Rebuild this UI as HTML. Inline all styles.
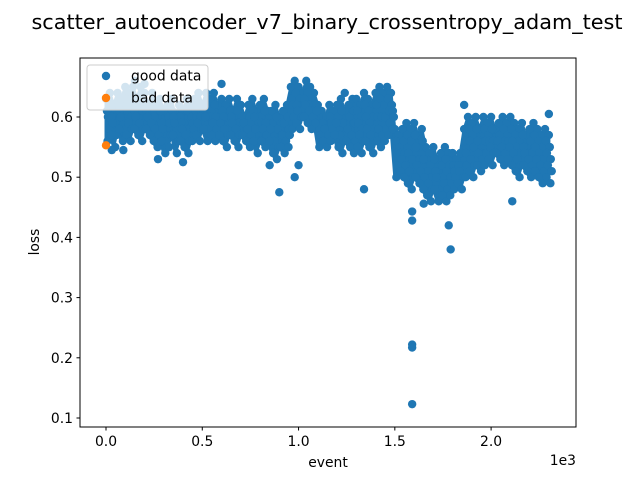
<!DOCTYPE html>
<html><head><meta charset="utf-8"><style>
body{margin:0;background:#fff;}
svg{display:block;font-family:"DejaVu Sans","Liberation Sans",sans-serif;}
</style></head><body>
<svg id="chart" width="640" height="480" xmlns="http://www.w3.org/2000/svg">
<rect width="640" height="480" fill="#fff"/>
<text x="327" y="29" font-size="20.8" text-anchor="middle">scatter_autoencoder_v7_binary_crossentropy_adam_test</text>
<g id="marks"></g>
<rect x="80" y="58" width="496" height="369" fill="none" stroke="#000" stroke-width="1"/>
<g id="axes"></g>
<text x="328" y="467" font-size="13.9" text-anchor="middle">event</text>
<text x="576" y="465" font-size="13.9" text-anchor="end">1e3</text>
<text x="39" y="242" font-size="13.9" text-anchor="middle" transform="rotate(-90 39 242)">loss</text>
<g>
<rect x="87" y="65" width="121" height="45" rx="3" fill="#fff" fill-opacity="0.8" stroke="#ccc"/>
<circle cx="106" cy="76" r="4.2" fill="#1f77b4"/>
<text x="131" y="80.5" font-size="13.9">good data</text>
<circle cx="106" cy="98" r="4.2" fill="#ff7f0e"/>
<text x="131" y="102.5" font-size="13.9">bad data</text>
</g>
</svg>
<script>
const xTicks=[0,500,1000,1500,2000];
const xTickLabels=["0.0","0.5","1.0","1.5","2.0"];
const yTicks=[0.1,0.2,0.3,0.4,0.5,0.6];
const yTickLabels=["0.1","0.2","0.3","0.4","0.5","0.6"];
const binStep=20;
const lossHi=[.63,.64,.62,.64,.63,.65,.64,.65,.63,.65,.64,.62,.64,.62,.63,.61,.62,.63,.60,.62,.61,.63,.62,.63,.64,.62,.64,.63,.64,.62,.63,.62,.63,.61,.63,.62,.60,.62,.63,.61,.62,.63,.61,.61,.62,.60,.61,.62,.65,.66,.65,.64,.66,.65,.64,.62,.61,.60,.62,.61,.62,.63,.61,.62,.63,.63,.62,.64,.63,.62,.64,.65,.64,.65,.64,.58,.57,.58,.59,.58,.59,.57,.58,.55,.54,.55,.53,.54,.55,.54,.54,.53,.54,.58,.60,.59,.60,.58,.60,.59,.60,.58,.59,.60,.59,.60,.59,.58,.59,.57,.58,.59,.58,.57,.58,.57];
const lossMidA=[.61,.62,.60,.62,.61,.63,.62,.62,.61,.63,.62,.60,.62,.60,.61,.59,.60,.61,.58,.60,.59,.61,.60,.61,.62,.60,.62,.61,.62,.60,.61,.60,.61,.59,.61,.60,.59,.60,.61,.59,.60,.61,.59,.59,.60,.58,.59,.60,.63,.64,.63,.62,.64,.63,.62,.60,.59,.58,.60,.59,.60,.61,.59,.60,.61,.61,.60,.62,.61,.60,.62,.63,.62,.63,.62,.56,.55,.56,.57,.56,.57,.55,.56,.53,.52,.53,.51,.52,.53,.52,.52,.51,.52,.56,.58,.57,.58,.56,.58,.57,.58,.56,.57,.58,.57,.58,.57,.56,.57,.55,.56,.57,.56,.55,.56,.55];
const lossMidC=[.60,.60,.59,.61,.59,.61,.60,.61,.60,.61,.61,.58,.60,.58,.59,.57,.59,.60,.57,.59,.58,.58,.59,.60,.60,.59,.60,.60,.60,.58,.60,.58,.60,.57,.59,.58,.58,.59,.60,.58,.59,.59,.57,.57,.58,.56,.57,.58,.62,.62,.61,.63,.62,.61,.60,.58,.57,.56,.59,.58,.58,.59,.57,.58,.59,.59,.58,.60,.59,.58,.60,.60,.60,.61,.61,.54,.54,.54,.54,.53,.55,.53,.53,.51,.50,.51,.50,.50,.51,.50,.51,.52,.51,.54,.56,.55,.56,.54,.56,.56,.56,.55,.56,.56,.56,.56,.55,.54,.55,.54,.54,.55,.54,.53,.54,.53];
const lossMidB=[.58,.59,.57,.60,.58,.59,.58,.60,.59,.58,.60,.59,.58,.57,.58,.56,.57,.59,.56,.58,.57,.56,.58,.59,.58,.60,.58,.59,.58,.59,.58,.57,.59,.58,.57,.59,.58,.57,.58,.56,.58,.57,.58,.56,.55,.57,.56,.57,.60,.61,.60,.62,.61,.60,.61,.57,.58,.57,.58,.59,.57,.56,.58,.57,.56,.57,.56,.58,.57,.56,.58,.57,.58,.59,.60,.52,.53,.52,.51,.50,.52,.51,.50,.49,.48,.50,.48,.49,.48,.49,.50,.51,.50,.52,.53,.52,.54,.53,.54,.55,.54,.56,.55,.54,.55,.54,.53,.52,.54,.53,.52,.53,.52,.51,.52,.51];
const lossLo=[.56,.57,.55,.58,.56,.57,.56,.58,.57,.56,.58,.57,.56,.55,.56,.54,.55,.57,.54,.56,.55,.54,.56,.57,.56,.58,.56,.57,.56,.57,.56,.55,.57,.56,.55,.57,.56,.55,.56,.54,.56,.55,.56,.54,.53,.55,.54,.55,.58,.59,.58,.60,.59,.58,.59,.55,.56,.55,.56,.57,.55,.54,.56,.55,.54,.55,.54,.56,.55,.54,.56,.55,.56,.57,.58,.50,.51,.50,.49,.48,.50,.49,.48,.47,.46,.48,.46,.47,.46,.47,.48,.49,.48,.50,.51,.50,.52,.51,.52,.53,.52,.54,.53,.52,.53,.52,.51,.50,.52,.51,.50,.51,.50,.49,.50,.49];
const outlierEvents=[30,90,270,400,900,980,1000,1340,1590,1590,1590,1590,1590,1650,1790,1780,1860,2110,2300,850,600,1240,150,200];
const outlierLoss=[.545,.545,.53,.525,.475,.5,.52,.48,.443,.428,.222,.217,.123,.456,.38,.42,.62,.46,.605,.52,.655,.64,.66,.655];
const badEvents=[0];
const badLoss=[0.553];

const NS="http://www.w3.org/2000/svg";
function xs(v){return 106+v*0.19255;}
function ys(v){return 418-(v-0.1)*602;}
const marks=document.getElementById('marks');
const axes=document.getElementById('axes');
const bandTop=[],bandBot=[];
lossHi.forEach(function(v,i){bandTop.push(xs(i*binStep).toFixed(1)+','+ys(v).toFixed(1));});
for(let i=lossLo.length-1;i>=0;i--){bandBot.push(xs(i*binStep).toFixed(1)+','+ys(lossLo[i]).toFixed(1));}
const band=document.createElementNS(NS,'polygon');
band.setAttribute('points',bandTop.concat(bandBot).join(' '));
band.setAttribute('fill','#1f77b4');
band.setAttribute('stroke','#1f77b4');
band.setAttribute('stroke-width','3');
band.setAttribute('stroke-linejoin','round');


marks.appendChild(band);
function dot(x,y,color,name){
  const c=document.createElementNS(NS,'circle');
  c.setAttribute('cx',xs(x));c.setAttribute('cy',ys(y));c.setAttribute('r',4.2);c.setAttribute('fill',color);
  
  
  marks.appendChild(c);
}
const series=[[lossHi,0],[lossMidA,5],[lossMidC,10],[lossMidB,15],[lossLo,8]];
series.forEach(function(s){
  s[0].forEach(function(v,i){dot(i*binStep+s[1],v,'#1f77b4','good-data-point');});
});
outlierEvents.forEach(function(e,i){dot(e,outlierLoss[i],'#1f77b4','good-data-point');});
badEvents.forEach(function(e,i){dot(e,badLoss[i],'#ff7f0e','bad-data-point');});
function line(x1,y1,x2,y2){const l=document.createElementNS(NS,'line');l.setAttribute('x1',x1);l.setAttribute('y1',y1);l.setAttribute('x2',x2);l.setAttribute('y2',y2);l.setAttribute('stroke','#000');return l;}
function txt(x,y,s,anchor){const t=document.createElementNS(NS,'text');t.setAttribute('x',x);t.setAttribute('y',y);t.setAttribute('font-size','13.9');t.setAttribute('text-anchor',anchor);t.textContent=s;return t;}
xTicks.forEach(function(v,i){
  const g=document.createElementNS(NS,'g');
  
  
  g.appendChild(line(xs(v),427,xs(v),430.5));
  g.appendChild(txt(xs(v),446,xTickLabels[i],'middle'));
  axes.appendChild(g);
});
yTicks.forEach(function(v,i){
  const g=document.createElementNS(NS,'g');
  
  
  g.appendChild(line(76.5,ys(v),80,ys(v)));
  g.appendChild(txt(73,ys(v)+5,yTickLabels[i],'end'));
  axes.appendChild(g);
});
</script>
</body></html>
